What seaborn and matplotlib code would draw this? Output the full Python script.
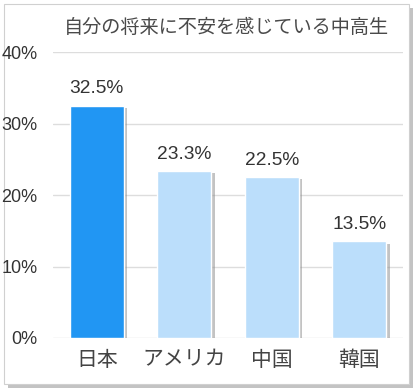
import matplotlib
matplotlib.use("Agg")
import matplotlib.pyplot as plt
import matplotlib.patheffects as pe
from matplotlib.patches import Rectangle
import seaborn as sns
import pandas as pd

countries = ["日本", "アメリカ", "中国", "韓国"]
shares = [32.5, 23.3, 22.5, 13.5]
bar_colors = ["#2196F3", "#BBDEFB", "#BBDEFB", "#BBDEFB"]
title = "自分の将来に不安を感じている中高生"
y_ticks = [0, 10, 20, 30, 40]

df = pd.DataFrame({"country": countries, "share": shares})

sns.set_style("white")
plt.rcParams["font.family"] = ["Liberation Sans", "Noto Sans CJK JP", "DejaVu Sans"]

fig = plt.figure(figsize=(4.19, 3.9), dpi=100)

# outer card with a soft shadow, kept behind the axes
card = Rectangle((4 / 419, 6 / 390), 405 / 419, 380 / 390, transform=fig.transFigure,
                 facecolor="white", edgecolor="#d0d0d0", linewidth=0.8, zorder=-10,
                 path_effects=[pe.SimplePatchShadow(offset=(3, -3), shadow_rgbFace="#888888", alpha=0.5),
                               pe.Normal()])
fig.patches.append(card)

ax = fig.add_axes([53 / 419, 52 / 390, 350 / 419, 286 / 390])
ax.set_facecolor("none")
ax.set_zorder(1)

sns.barplot(data=df, x="country", y="share", hue="country", palette=bar_colors,
            legend=False, width=0.62, saturation=1, ax=ax, zorder=3)

for bar in ax.patches:
    bar.set_path_effects([pe.SimplePatchShadow(offset=(2.5, -1.5), shadow_rgbFace="#888888", alpha=0.5),
                          pe.Normal()])

for cont in ax.containers:
    ax.bar_label(cont, labels=[f"{v}%" for v in cont.datavalues], padding=6,
                 fontsize=13.8, color="#333333")

ax.set_ylim(0, 40)
ax.set_xlim(-0.5, 3.5)
ax.set_yticks(y_ticks)
ax.set_yticklabels([f"{t}%" for t in y_ticks])
ax.grid(axis="y", color="#dddddd", linewidth=1, zorder=0)
ax.set_axisbelow(True)
sns.despine(ax=ax, left=True, bottom=True)
ax.tick_params(axis="y", length=0, pad=11, labelsize=13, labelcolor="#333333")
ax.tick_params(axis="x", length=0, pad=9, labelsize=15, labelcolor="#444444")
ax.set_xlabel("")
ax.set_ylabel("")

fig.text(226 / 419, 1 - 28 / 390, title, ha="center", va="center",
         fontsize=13.8, color="#4a4a4a", zorder=5)

fig.savefig("out.png", dpi=100)
